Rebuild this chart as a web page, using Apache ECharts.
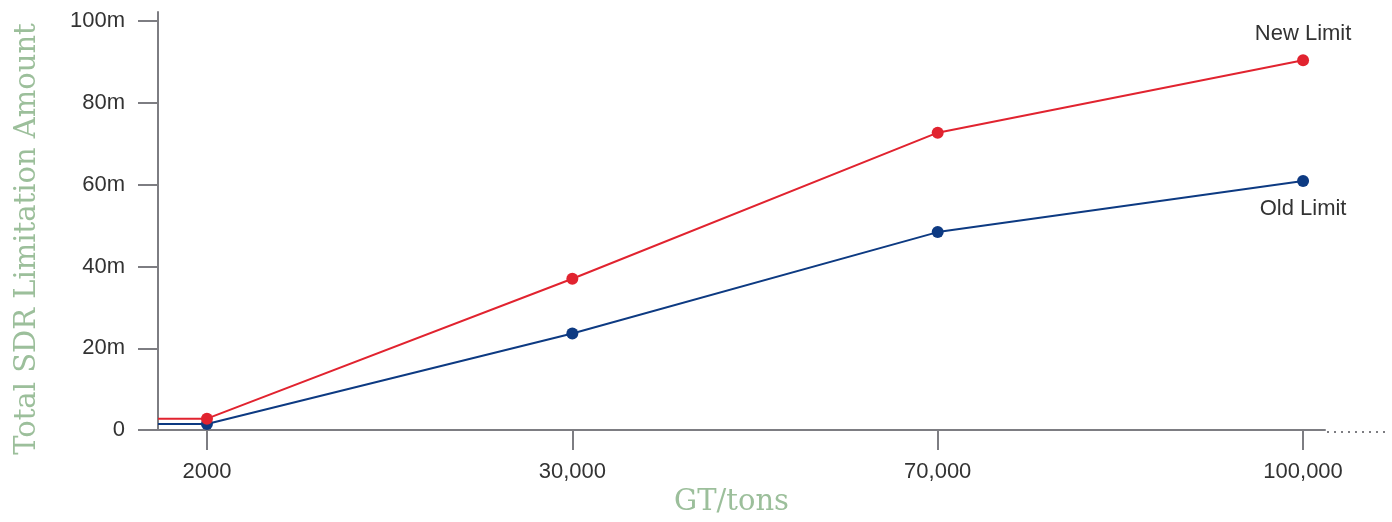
<!DOCTYPE html>
<html>
<head>
<meta charset="utf-8">
<script src="https://cdn.jsdelivr.net/npm/echarts@6/dist/echarts.min.js"></script>
<style>
  html, body { margin: 0; padding: 0; background: #fff; }
  #chart { width: 1392px; height: 522px; }
</style>
</head>
<body>
<div id="chart"></div>
<script>
// gross tonnage breakpoints (drawn evenly spaced, not to scale)
var tonnage = ['2000', '30,000', '70,000', '100,000'];
// total SDR limitation amount, in millions
var newLimit = [2.8, 37.0, 72.7, 90.4];
var oldLimit = [1.5, 23.6, 48.4, 60.9];
var yTicks = [0, 20, 40, 60, 80, 100];

var red = '#e1232f', blue = '#0d3a82';
var axisGrey = '#7d7d82', textGrey = '#333333', nameGreen = '#9cbf9b';
var sans = 'Liberation Sans, Arial, sans-serif';
var serif = 'DejaVu Serif, serif';

// axis runs a little past the first and last breakpoint
var xMin = -0.134, xMax = 3.06;

function buildSeries(name, values, color, labelPos, labelDist) {
  // flat lead-in from the y axis to the first breakpoint
  var data = [{ value: [xMin, values[0]], symbol: 'none' }];
  values.forEach(function (v, i) {
    var item = { value: [i, v] };
    if (i === values.length - 1) {
      item.label = {
        show: true,
        position: labelPos,
        distance: labelDist,
        formatter: name,
        color: textGrey,
        fontFamily: sans,
        fontSize: 22
      };
    }
    data.push(item);
  });
  return {
    name: name,
    type: 'line',
    data: data,
    symbol: 'circle',
    symbolSize: 12,
    showSymbol: true,
    color: color,
    lineStyle: { color: color, width: 2 },
    itemStyle: { color: color },
    label: { show: false },
    emphasis: { disabled: true },
    animation: false
  };
}

var chart = echarts.init(document.getElementById('chart'));

var option = {
  animation: false,
  grid: { left: 158, right: 1392 - 1325, top: 12, bottom: 90 },
  xAxis: {
    type: 'value',
    min: xMin,
    max: xMax,
    name: 'GT/tons',
    nameLocation: 'middle',
    nameGap: 57,
    nameTextStyle: { color: nameGreen, fontFamily: serif, fontSize: 29, padding: [0, 20, 0, 0] },
    axisLine: { show: true, onZero: false, lineStyle: { color: axisGrey, width: 2 } },
    axisTick: { show: true, length: 20, customValues: [0, 1, 2, 3], lineStyle: { color: axisGrey, width: 2 } },
    axisLabel: {
      customValues: [0, 1, 2, 3],
      margin: 31,
      color: textGrey,
      fontFamily: sans,
      fontSize: 22,
      formatter: function (v) { return tonnage[Math.round(v)]; }
    },
    splitLine: { show: false }
  },
  yAxis: {
    type: 'value',
    min: 0,
    max: 102.2,
    name: 'Total SDR Limitation Amount',
    nameLocation: 'middle',
    nameGap: 116,
    nameTextStyle: { color: nameGreen, fontFamily: serif, fontSize: 29, padding: [0, 36, 0, 0] },
    axisLine: { show: true, onZero: false, lineStyle: { color: axisGrey, width: 2 } },
    axisTick: { show: true, length: 20, customValues: yTicks, lineStyle: { color: axisGrey, width: 2 } },
    axisLabel: {
      customValues: yTicks,
      margin: 33,
      color: textGrey,
      fontFamily: sans,
      fontSize: 22,
      formatter: function (v) { return v === 0 ? '0' : v + 'm'; }
    },
    splitLine: { show: false }
  },
  graphic: [{
    // dotted continuation of the x axis
    type: 'line',
    x: 1327,
    y: 432,
    shape: { x1: 0, y1: 0, x2: 58, y2: 0 },
    style: { stroke: axisGrey, lineWidth: 2, lineDash: [2, 5] }
  }],
  series: [
    buildSeries('Old Limit', oldLimit, blue, 'bottom', 11),
    buildSeries('New Limit', newLimit, red, 'top', 9)
  ]
};

chart.setOption(option);
</script>
</body>
</html>
